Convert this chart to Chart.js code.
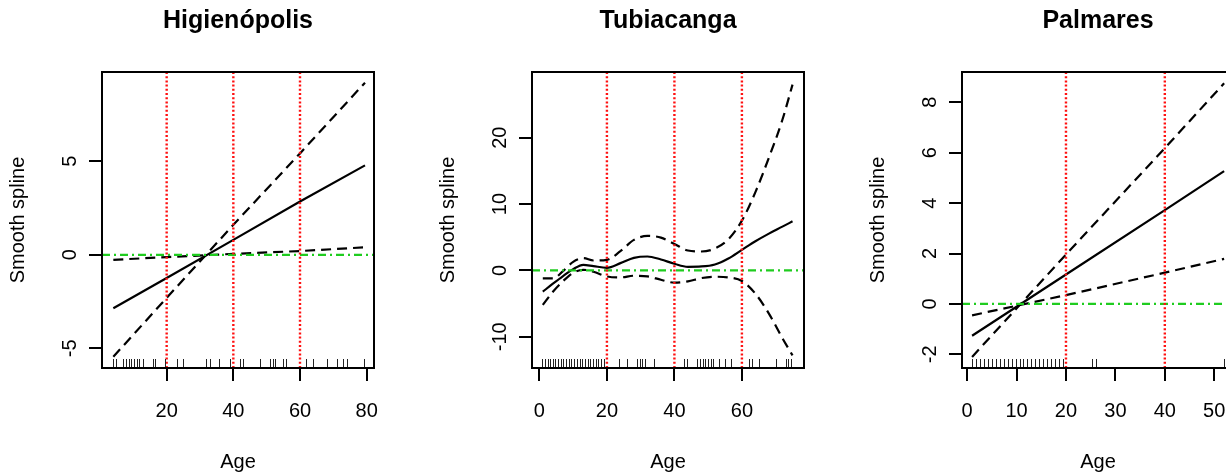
<!DOCTYPE html>
<html>
<head>
<meta charset="utf-8">
<title>Smooth spline by age</title>
<script src="https://cdn.jsdelivr.net/npm/chart.js@4.4.1/dist/chart.umd.min.js"></script>
<style>
  html, body { margin: 0; padding: 0; background: #fff; overflow: hidden; }
  .panel { position: absolute; top: 0; width: 430px; height: 476px; }
</style>
</head>
<body>
<div class="panel" style="left:0px"><canvas id="hig" width="430" height="476"></canvas></div>
<div class="panel" style="left:430px"><canvas id="tub" width="430" height="476"></canvas></div>
<div class="panel" style="left:860px"><canvas id="pal" width="430" height="476"></canvas></div>
<script>
// Higienópolis
var higAge = [4, 20, 40, 60, 79.5];
var higFit = [-2.86, -1.24, 0.8, 2.85, 4.78];
var higBandA = [-5.45, -2.3, 1.6, 5.42, 9.2];
var higBandB = [-0.27, -0.12, 0.05, 0.2, 0.4];
var higRug = [4, 4.8, 7, 7.8, 8.6, 9.4, 10.2, 11, 11.8, 12.8, 15.8, 16.6, 19.4, 23, 24.8,
              31.8, 33, 35.6, 39, 42, 42.8, 48, 51, 51.8, 52.6, 54.8, 55.8, 61.8, 64, 68,
              71, 73, 74, 79.2];
var higKnots = [20, 40, 60];
var higXTicks = [20, 40, 60, 80];
var higYTicks = [-5, 0, 5];
var higXLim = [0.6, 82.2];
var higYLim = [-6.05, 9.77];

// Tubiacanga
var tubAge = [1, 4, 7, 10, 13, 16, 20, 24, 28, 32, 36, 40, 44, 48, 52, 56, 60, 64, 68, 72, 75];
var tubFit = [-3.2, -2.0, -0.85, 0.2, 0.85, 0.65, 0.4, 1.1, 1.9, 2.1, 1.65, 1.0, 0.55, 0.6, 0.9, 1.8, 3.1, 4.4, 5.55, 6.6, 7.4];
var tubUpper = [-1.2, -1.2, -0.1, 1.3, 1.85, 1.5, 1.6, 2.9, 4.6, 5.2, 4.95, 4.0, 3.0, 2.85, 3.3, 4.7, 7.5, 11.8, 17.0, 22.7, 28.0];
var tubLower = [-5.2, -3.2, -1.6, -0.35, 0.1, -0.2, -0.9, -1.05, -0.8, -0.9, -1.4, -1.85, -1.65, -1.15, -0.95, -1.05, -1.6, -3.5, -6.5, -10.2, -12.8];
var tubRug = [0.8, 1.6, 2.4, 3.2, 3.9, 4.7, 5.5, 6.3, 7.1, 7.9, 8.7, 9.5, 10.3, 11.1, 11.9,
              12.7, 13.5, 14.3, 15.1, 15.9, 16.7, 17.4, 18.2, 19.0, 23.7, 25.9, 28.9, 29.7,
              30.4, 31.2, 34, 42.9, 43.8, 46.8, 47.6, 48.4, 49.2, 50, 50.7, 51.5, 53.1, 54.9,
              56.8, 62, 63, 65.1, 70.2, 73, 73.8, 74.6];
var tubKnots = [20, 40, 60];
var tubXTicks = [0, 20, 40, 60];
var tubYTicks = [-10, 0, 10, 20];
var tubXLim = [-2.2, 78.4];
var tubYLim = [-14.7, 29.9];

// Palmares
var palAge = [1, 20, 40, 52];
var palFit = [-1.26, 1.17, 3.72, 5.27];
var palBandA = [-2.1, 1.96, 6.18, 8.75];
var palBandB = [-0.45, 0.35, 1.24, 1.79];
var palRug = [1.0, 1.8, 2.6, 3.4, 4.2, 5.0, 5.8, 6.6, 7.4, 8.2, 9.0, 9.8, 10.6, 11.4, 12.2,
              13.0, 13.8, 14.6, 15.4, 16.2, 17.0, 17.8, 18.6, 19.4, 25.2, 26.0, 52.0];
var palKnots = [20, 40];
var palXTicks = [0, 10, 20, 30, 40, 50];
var palYTicks = [-2, 0, 2, 4, 6, 8];
var palXLim = [-1.04, 54];
var palYLim = [-2.54, 9.2];

var FONT = 'Liberation Sans, Arial, Helvetica, sans-serif';
Chart.defaults.font.family = FONT;
Chart.defaults.color = '#000';

function pts(xs, ys) {
  return xs.map(function (x, i) { return { x: x, y: ys[i] }; });
}

function curve(xs, ys, dashed, smooth) {
  return {
    data: pts(xs, ys),
    showLine: true,
    borderColor: '#000',
    borderWidth: 2.2,
    borderDash: dashed ? [10, 6] : [],
    pointRadius: 0,
    cubicInterpolationMode: smooth ? 'monotone' : 'default',
    tension: smooth ? 0.4 : 0,
    fill: false
  };
}

// rug along the bottom edge and the box around the plot region
var rBox = {
  id: 'rBox',
  afterDatasetsDraw: function (chart) {
    var ctx = chart.ctx;
    var a = chart.chartArea;
    var xs = chart.scales.x;
    var rug = chart.options.plugins.rBox.rug;
    ctx.save();
    ctx.strokeStyle = '#222';
    ctx.lineWidth = 1;
    ctx.beginPath();
    rug.forEach(function (v) {
      var px = Math.round(xs.getPixelForValue(v)) + 0.5;
      ctx.moveTo(px, a.bottom);
      ctx.lineTo(px, a.bottom - 9);
    });
    ctx.stroke();
    ctx.strokeStyle = '#000';
    ctx.lineWidth = 2;
    ctx.strokeRect(a.left, a.top, a.right - a.left, a.bottom - a.top);
    ctx.restore();
  }
};

function makePanel(id, title, p) {
  var datasets = [];

  // knots: red dotted verticals
  p.knots.forEach(function (k) {
    datasets.push({
      data: [{ x: k, y: p.yLim[0] }, { x: k, y: p.yLim[1] }],
      showLine: true, borderColor: '#ff1010', borderWidth: 2.4,
      borderDash: [2, 2.2], pointRadius: 0
    });
  });
  // zero reference: green dot-dash
  datasets.push({
    data: [{ x: p.xLim[0], y: 0 }, { x: p.xLim[1], y: 0 }],
    showLine: true, borderColor: '#1fcc1f', borderWidth: 2.2,
    borderDash: [8, 4, 2, 4], pointRadius: 0
  });

  datasets.push(curve(p.age, p.fit, false, p.smooth));
  datasets.push(curve(p.age, p.bandA, true, p.smooth));
  datasets.push(curve(p.age, p.bandB, true, p.smooth));

  new Chart(document.getElementById(id), {
    type: 'scatter',
    data: { datasets: datasets },
    options: {
      responsive: false,
      animation: false,
      events: [],
      layout: { padding: { left: 0, right: 56, top: 0, bottom: 0 } },
      plugins: {
        legend: { display: false },
        tooltip: { enabled: false },
        title: {
          display: true,
          text: title,
          fullSize: false,
          color: '#000',
          font: { family: FONT, size: 25, weight: 'bold' },
          padding: { top: 6, bottom: 36 }
        },
        rBox: { rug: p.rug }
      },
      scales: {
        x: {
          type: 'linear',
          position: 'bottom',
          min: p.xLim[0],
          max: p.xLim[1],
          afterBuildTicks: function (s) { s.ticks = p.xTicks.map(function (v) { return { value: v }; }); },
          afterFit: function (s) { s.height = 108; },
          ticks: {
            autoSkip: false, maxRotation: 0, padding: 18,
            color: '#000', font: { size: 20 },
            callback: function (v) { return String(v); }
          },
          grid: { display: true, drawOnChartArea: false, drawTicks: true, tickLength: 13, color: '#000', lineWidth: 2 },
          border: { display: true, color: '#000', width: 2 },
          title: { display: true, text: 'Age', color: '#000', font: { size: 20 }, padding: { top: 0, bottom: 2 } }
        },
        y: {
          type: 'linear',
          position: 'left',
          min: p.yLim[0],
          max: p.yLim[1],
          afterBuildTicks: function (s) { s.ticks = p.yTicks.map(function (v) { return { value: v }; }); },
          afterFit: function (s) { s.width = 102; },
          ticks: {
            autoSkip: false, minRotation: 90, maxRotation: 90, crossAlign: 'center',
            padding: p.yPad, color: '#000', font: { size: 20 },
            callback: function (v) { return String(v); }
          },
          grid: { display: true, drawOnChartArea: false, drawTicks: true, tickLength: 13, color: '#000', lineWidth: 2 },
          border: { display: true, color: '#000', width: 2 },
          title: { display: true, text: 'Smooth spline', color: '#000', font: { size: 20 }, padding: { top: 6, bottom: 0 } }
        }
      }
    },
    plugins: [rBox]
  });
}

makePanel('hig', 'Higienópolis', {
  age: higAge, fit: higFit, bandA: higBandA, bandB: higBandB, rug: higRug, knots: higKnots,
  xTicks: higXTicks, yTicks: higYTicks, xLim: higXLim, yLim: higYLim, yPad: 10
});
makePanel('tub', 'Tubiacanga', {
  age: tubAge, fit: tubFit, bandA: tubUpper, bandB: tubLower, rug: tubRug, knots: tubKnots,
  xTicks: tubXTicks, yTicks: tubYTicks, xLim: tubXLim, yLim: tubYLim, yPad: 4.5, smooth: true
});
makePanel('pal', 'Palmares', {
  age: palAge, fit: palFit, bandA: palBandA, bandB: palBandB, rug: palRug, knots: palKnots,
  xTicks: palXTicks, yTicks: palYTicks, xLim: palXLim, yLim: palYLim, yPad: 10
});
</script>
</body>
</html>
